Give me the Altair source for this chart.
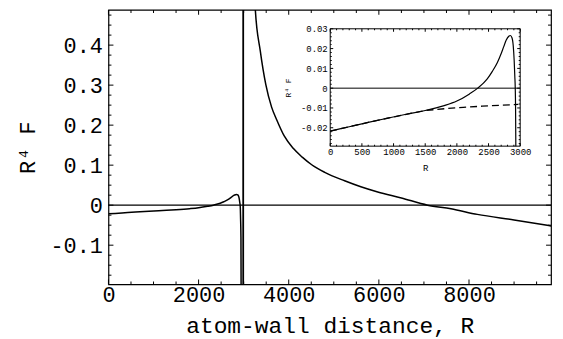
import altair as alt
import pandas as pd

# ---------------- data ----------------
# near-wall branch (also shown in the inset, solid)
left_R = [0, 300, 600, 900, 1200, 1500, 1800, 2000, 2200, 2330, 2480, 2560, 2640,
          2700, 2740, 2780, 2820, 2845, 2870, 2890, 2905, 2915, 2922, 2927, 2931]
left_F = [-0.0217, -0.0195, -0.0173, -0.0152, -0.0132, -0.0113, -0.0088, -0.0065,
          -0.0029, 0.0, 0.0047, 0.0085, 0.013, 0.0175, 0.021, 0.0243, 0.0262, 0.0266,
          0.0255, 0.0215, 0.014, 0.006, 0.0, -0.01, -0.0293]
# steep drop seen only in the main panel
tail_R = [2940, 2946]
tail_F = [-0.08, -0.30]
# branch beyond the pole
right_R = [3050, 3150, 3258, 3368, 3492, 3620, 3735, 3900, 4100, 4300, 4510, 4800,
           5240, 5600, 5975, 6500, 7080, 7600, 8185, 9000, 9820]
right_F = [1.7, 0.82, 0.49, 0.386, 0.301, 0.245, 0.213, 0.173, 0.142, 0.12, 0.101,
           0.082, 0.061, 0.046, 0.033, 0.018, 0.0, -0.009, -0.023, -0.037, -0.052]
# pole position
pole_R = [2990]
# inset dashed curve
dash_R = [0, 300, 600, 900, 1200, 1500, 1800, 2100, 2400, 2700, 2970]
dash_F = [-0.0217, -0.0195, -0.0173, -0.0152, -0.0132, -0.0113, -0.0104, -0.0097,
          -0.0091, -0.0086, -0.0082]

# axes / tick values
main_xticks = [0, 2000, 4000, 6000, 8000]
main_xminor = [v for v in range(500, 9820, 500) if v % 2000 != 0]
main_yticks = [-0.1, 0.0, 0.1, 0.2, 0.3, 0.4]
main_yminor = [round(-0.175 + 0.025 * i, 3) for i in range(27)]
main_yminor = [v for v in main_yminor if abs(round(v * 10) - v * 10) > 1e-6]
ins_xticks = [0, 500, 1000, 1500, 2000, 2500, 3000]
ins_xminor = [v for v in range(100, 3000, 100) if v % 500 != 0]
ins_yticks = [-0.02, -0.01, 0.0, 0.01, 0.02, 0.03]
ins_yminor = [round(-0.028 + 0.002 * i, 3) for i in range(30)]
ins_yminor = [v for v in ins_yminor if abs(round(v * 100) - v * 100) > 1e-6]

# ---------------- layout / style ----------------
W, H = 445, 276
MX = [0, 9820]
MY = [-0.198, 0.488]
IX = [0, 3000]
IY = [-0.0293, 0.03]
INS_XR = [223, 414]
INS_YR = [137, 19]
FONT = "Liberation Mono"
LBL = "datum.value == 0 ? '0' : replace(format(datum.value, '{f}'), '\u2212', '-')"

mx_axis = alt.Axis(title="atom-wall distance, R", values=main_xticks, format="d",
                   grid=False, domain=False, ticks=False, tickSize=0,
                   labelFont=FONT, labelFontSize=22, labelColor="black",
                   labelPadding=0, labelFlush=False, labelOverlap=False,
                   titleFont=FONT, titleFontSize=23, titleFontWeight="normal",
                   titleColor="black", titlePadding=9)
my_axis = alt.Axis(title="R\u2074 F", values=main_yticks,
                   labelExpr=LBL.format(f=".1f"),
                   grid=False, domain=False, ticks=False, tickSize=0,
                   labelFont=FONT, labelFontSize=22, labelColor="black",
                   labelPadding=6, labelFlush=False, labelOverlap=False,
                   titleFont=FONT, titleFontSize=22, titleFontWeight="normal",
                   titleColor="black", titlePadding=11)
ix_axis = alt.Axis(orient="bottom", offset=-(H - INS_YR[0]), title="R",
                   values=ins_xticks, format="d", grid=False, domain=False,
                   ticks=False, tickSize=0, labelFont=FONT, labelFontSize=9,
                   labelColor="black", labelPadding=1, labelFlush=False,
                   labelOverlap=False, titleFont=FONT, titleFontSize=9,
                   titleFontWeight="normal", titleColor="black", titlePadding=7,
                   zindex=2)
iy_axis = alt.Axis(orient="left", offset=-INS_XR[0], title="R\u2074 F",
                   values=ins_yticks, labelExpr=LBL.format(f=".2f"),
                   grid=False, domain=False, ticks=False, tickSize=0,
                   labelFont=FONT, labelFontSize=9, labelColor="black",
                   labelPadding=3, labelFlush=False, labelOverlap=False,
                   titleFont=FONT, titleFontSize=8, titleFontWeight="normal",
                   titleColor="black", titlePadding=8, zindex=2)

msx = alt.Scale(domain=MX, nice=False, zero=False)
msy = alt.Scale(domain=MY, nice=False, zero=False)
isx = alt.Scale(domain=IX, range=INS_XR, nice=False, zero=False)
isy = alt.Scale(domain=IY, range=INS_YR, nice=False, zero=False)


def mX(f):
    return alt.X(f, type="quantitative", scale=msx, axis=mx_axis)


def mY(f):
    return alt.Y(f, type="quantitative", scale=msy, axis=my_axis)


def iX(f):
    return alt.X(f, type="quantitative", scale=isx, axis=ix_axis)


def iY(f):
    return alt.Y(f, type="quantitative", scale=isy, axis=iy_axis)


def frame_ticks(X, Y, xdom, ydom, xmaj, xmin, ymaj, ymin, Lmaj, Lmin):
    out = []
    for vals, L in [(xmaj, Lmaj), (xmin, Lmin)]:
        for edge, off in [(ydom[0], -L / 2), (ydom[1], L / 2)]:
            df = pd.DataFrame({"v": vals, "e": [edge] * len(vals)})
            out.append(alt.Chart(df).mark_tick(orient="vertical", size=L, thickness=1,
                                               color="black", opacity=1, yOffset=off)
                       .encode(x=X("v"), y=Y("e")))
    for vals, L in [(ymaj, Lmaj), (ymin, Lmin)]:
        for edge, off in [(xdom[0], L / 2), (xdom[1], -L / 2)]:
            df = pd.DataFrame({"v": vals, "e": [edge] * len(vals)})
            out.append(alt.Chart(df).mark_tick(orient="horizontal", size=L, thickness=1,
                                               color="black", opacity=1, xOffset=off)
                       .encode(x=X("e"), y=Y("v")))
    return out


# ---------------- main panel ----------------
curve_df = pd.DataFrame({
    "R": left_R + tail_R + right_R,
    "F": left_F + tail_F + right_F,
    "branch": ["a"] * (len(left_R) + len(tail_R)) + ["b"] * len(right_R),
})
main_curve = alt.Chart(curve_df).mark_line(color="black", strokeWidth=1.5, clip=True,
                                           interpolate="monotone").encode(
    x=mX("R"), y=mY("F"), detail="branch:N")
zero_main = alt.Chart(pd.DataFrame({"F": [0.0]})).mark_rule(color="black", strokeWidth=1.2).encode(
    y=mY("F"))
pole = alt.Chart(pd.DataFrame({"R": pole_R})).mark_rule(color="black", strokeWidth=1.8).encode(
    x=mX("R"))
main_layers = [zero_main, pole, main_curve] + frame_ticks(
    mX, mY, MX, MY, main_xticks, main_xminor, main_yticks, main_yminor, 5, 3)
main = alt.layer(*main_layers)

# ---------------- inset ----------------
box = alt.Chart(pd.DataFrame({"x0": [IX[0]], "x1": [IX[1]], "y0": [IY[0]], "y1": [IY[1]]})).mark_rect(
    fill="white", stroke="black", strokeWidth=1).encode(
    x=iX("x0"), x2="x1", y=iY("y0"), y2="y1")
zero_ins = alt.Chart(pd.DataFrame({"x0": [IX[0]], "x1": [IX[1]], "F": [0.0]})).mark_rule(
    color="black", strokeWidth=1).encode(x=iX("x0"), x2="x1", y=iY("F"))
dash = alt.Chart(pd.DataFrame({"R": dash_R, "F": dash_F})).mark_line(
    color="black", strokeWidth=1.3, strokeDash=[7, 4]).encode(x=iX("R"), y=iY("F"))
solid = alt.Chart(pd.DataFrame({"R": left_R, "F": left_F})).mark_line(
    color="black", strokeWidth=1.2, interpolate="monotone").encode(x=iX("R"), y=iY("F"))
inset_layers = [box, zero_ins, dash, solid] + frame_ticks(
    iX, iY, IX, IY, ins_xticks, ins_xminor, ins_yticks, ins_yminor, 3, 1.5)
inset = alt.layer(*inset_layers)

chart = alt.layer(main, inset).resolve_scale(
    x="independent", y="independent"
).properties(
    width=W, height=H,
    padding={"left": 101, "top": 1, "right": 4, "bottom": 54},
    autosize=alt.AutoSizeParams(type="none"),
    background="white",
).configure_view(stroke="black", strokeWidth=1.2)

chart.save("out.html", embed_options={"renderer": "svg", "actions": False})
